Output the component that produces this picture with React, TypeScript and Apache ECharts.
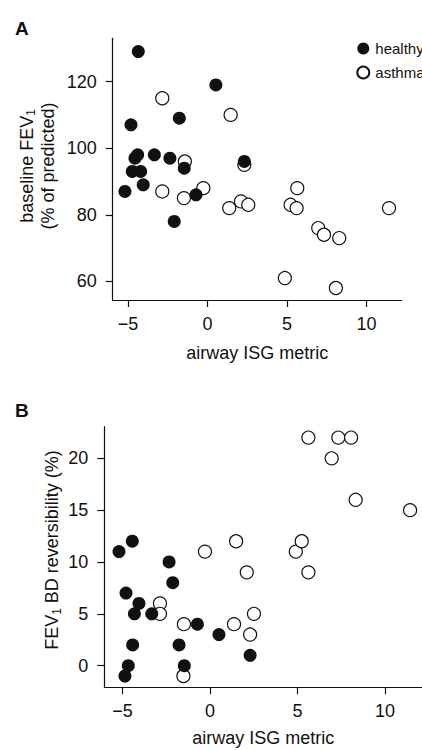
import React, { useEffect, useRef } from 'react';
import * as echarts from 'echarts';

// Panel A: airway ISG metric vs baseline FEV1 (% of predicted)
const healthyA: [number, number][] = [
  [-4.35, 129], [0.53, 119], [-1.77, 109], [-4.81, 107], [-4.56, 97], [-4.39, 98],
  [-3.34, 98], [-2.36, 97], [-1.46, 94], [2.32, 96], [-4.73, 93], [-4.2, 93],
  [-5.19, 87], [-4.04, 89], [-0.72, 86], [-2.09, 78],
];
const asthmaA: [number, number][] = [
  [-2.84, 115], [1.46, 110], [-1.42, 96], [2.32, 95], [-2.84, 87], [-1.48, 85],
  [-0.26, 88], [1.37, 82], [2.11, 84], [2.57, 83], [5.65, 88], [5.23, 83],
  [5.61, 82], [6.97, 76], [7.33, 74], [8.29, 73], [11.42, 82], [4.87, 61], [8.08, 58],
];
// Panel B: airway ISG metric vs FEV1 BD reversibility (%)
const healthyB: [number, number][] = [
  [-5.2, 11], [-4.44, 12], [-2.34, 10], [-2.13, 8], [-4.8, 7], [-4.06, 6],
  [-4.32, 5], [-3.33, 5], [-0.72, 4], [0.51, 3], [-4.42, 2], [-1.77, 2],
  [2.29, 1], [-4.67, 0], [-1.47, 0], [-4.86, -1],
];
const asthmaB: [number, number][] = [
  [5.62, 22], [7.33, 22], [8.06, 22], [6.95, 20], [8.32, 16], [11.43, 15],
  [-0.29, 11], [1.49, 12], [4.9, 11], [5.24, 12], [2.1, 9], [5.62, 9],
  [-2.86, 6], [-2.86, 5], [2.51, 5], [-1.49, 4], [1.37, 4], [2.29, 3], [-1.52, -1],
];

const xTicks = [-5, 0, 5, 10];
const yTicksA = [60, 80, 100, 120];
const yTicksB = [0, 5, 10, 15, 20];

const FONT = '"Liberation Sans", Arial, Helvetica, sans-serif';
const INK = '#111111';

const fmt = (v: number) => (v < 0 ? '\u2212' + String(-v) : String(v));

function makeAxis(idx: number, min: number, max: number, ticks: number[], isX: boolean) {
  const ax: any = {
    type: 'value',
    gridIndex: idx,
    min,
    max,
    axisLine: { show: true, onZero: false, lineStyle: { color: INK, width: 1.2 } },
    axisTick: { show: true, length: 7, customValues: ticks, lineStyle: { color: INK, width: 1.2 } },
    axisLabel: {
      show: true,
      customValues: ticks,
      color: INK,
      fontSize: 18,
      fontFamily: FONT,
      margin: isX ? 15 : 16,
      formatter: fmt,
    },
    splitLine: { show: false },
  };
  if (isX) {
    ax.name = 'airway ISG metric';
    ax.nameLocation = 'middle';
    ax.nameGap = idx === 0 ? 44 : 42;
    ax.nameTextStyle = { color: INK, fontSize: 18, fontFamily: FONT };
  }
  return ax;
}

export default function App() {
  const ref = useRef<HTMLDivElement>(null);
  useEffect(() => {
    if (!ref.current) return;
    const chart = echarts.init(ref.current, undefined, { renderer: 'svg' });

    const openStyle = { color: '#ffffff', borderColor: INK, borderWidth: 1.2, opacity: 1 };
    const filledStyle = { color: INK, borderColor: INK, borderWidth: 0, opacity: 1 };

    const richName = {
      n: { fontSize: 18, fontFamily: FONT, fill: INK, lineHeight: 21 },
      s: { fontSize: 12, fontFamily: FONT, fill: INK, lineHeight: 12, verticalAlign: 'bottom' },
    };

    chart.setOption({
      animation: false,
      backgroundColor: '#ffffff',
      grid: [
        { left: 112.7, top: 38.3, width: 289, height: 261.7, containLabel: false },
        { left: 104.3, top: 426.7, width: 317.7, height: 260.6, containLabel: false },
      ],
      xAxis: [
        makeAxis(0, -5.96, 12.22, xTicks, true),
        makeAxis(1, -6.04, 12.11, xTicks, true),
      ],
      yAxis: [
        makeAxis(0, 54.4, 133, yTicksA, false),
        makeAxis(1, -2.09, 23.05, yTicksB, false),
      ],
      legend: {
        data: ['healthy', 'asthma'],
        orient: 'vertical',
        left: 351.3,
        top: 36,
        itemWidth: 12,
        itemHeight: 12,
        itemGap: 9,
        selectedMode: false,
        textStyle: { color: INK, fontSize: 15, fontFamily: FONT, padding: [0, 0, 0, 1] },
      },
      graphic: [
        { type: 'text', left: 15, top: 19, style: { text: 'A', fontSize: 19, fontWeight: 'bold', fontFamily: FONT, fill: INK } },
        { type: 'text', left: 15, top: 401, style: { text: 'B', fontSize: 19, fontWeight: 'bold', fontFamily: FONT, fill: INK } },
        {
          type: 'text', x: 37, y: 166, rotation: Math.PI / 2,
          style: {
            text: '{n|baseline FEV}{s|1}\n{n|(% of predicted)}',
            rich: richName, align: 'center', verticalAlign: 'middle',
          },
        },
        {
          type: 'text', x: 52, y: 550, rotation: Math.PI / 2,
          style: {
            text: '{n|FEV}{s|1}{n| BD reversibility (%)}',
            rich: richName, align: 'center', verticalAlign: 'middle',
          },
        },
      ],
      series: [
        { name: 'asthma', type: 'scatter', xAxisIndex: 0, yAxisIndex: 0, symbol: 'circle', symbolSize: 13, itemStyle: openStyle, data: asthmaA, z: 2 },
        { name: 'healthy', type: 'scatter', xAxisIndex: 0, yAxisIndex: 0, symbol: 'circle', symbolSize: 13, itemStyle: filledStyle, data: healthyA, z: 3 },
        { name: 'asthma', type: 'scatter', xAxisIndex: 1, yAxisIndex: 1, symbol: 'circle', symbolSize: 13, itemStyle: openStyle, data: asthmaB, z: 2 },
        { name: 'healthy', type: 'scatter', xAxisIndex: 1, yAxisIndex: 1, symbol: 'circle', symbolSize: 13, itemStyle: filledStyle, data: healthyB, z: 3 },
      ],
    });
    return () => chart.dispose();
  }, []);
  return (
    <div
      ref={ref}
      style={{ position: 'absolute', left: 0, top: 0, width: 422, height: 750, background: '#fff' }}
    />
  );
}
